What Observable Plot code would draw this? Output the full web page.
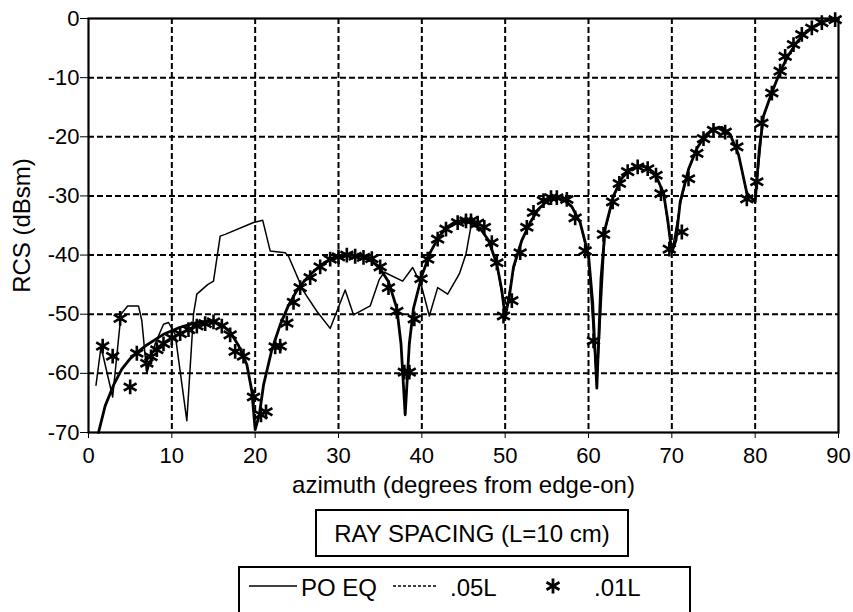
<!DOCTYPE html>
<html>
<head>
<meta charset="utf-8">
<script src="https://cdn.jsdelivr.net/npm/d3@7"></script>
<script src="https://cdn.jsdelivr.net/npm/@observablehq/plot@0.6"></script>
<style>
  html, body { margin: 0; padding: 0; background: #fff; }
  #wrap { position: relative; width: 853px; height: 612px; overflow: hidden; font-family: "Liberation Sans", Arial, sans-serif; color: #000; }
  .box { position: absolute; border: 2px solid #000; box-sizing: border-box; font-size: 24px; }
  .lbl { position: absolute; white-space: nowrap; line-height: 1; }
</style>
</head>
<body>
<div id="wrap"></div>
<script>
// ---- data ----
const xTicks = [0, 10, 20, 30, 40, 50, 60, 70, 80, 90];
const yTicks = [0, -10, -20, -30, -40, -50, -60, -70];

// PO EQ (solid line)
const poAz = [1.2,2,3,4,5,6,7,8,9,10,11,12,13,14,15,16,17,18,19,19.6,20,20.5,21,22,23,24,25,26,27,28,29,30,31,32,33,34,35,36,37,37.5,38,38.5,39,40,41,42,43,44,45,46,47,48,49,49.6,50,50.5,51,52,53,54,55,56,57,58,59,60,60.5,61,61.5,62,63,64,65,66,67,68,69,69.5,70,70.5,71,72,73,74,75,76,77,78,79,80,80.5,81,82,83,84,85,86,87,88,89,90];
const poDb = [-70,-65.5,-62,-59.3,-57.5,-56.3,-55.2,-54.3,-53.4,-52.8,-52.2,-51.8,-51.4,-51.2,-51.2,-51.8,-53,-55.3,-58.5,-63,-69.5,-67,-62,-56,-51.8,-48.5,-46,-44.2,-42.8,-41.6,-40.8,-40.3,-40,-40,-40.3,-41,-42.3,-44.5,-49,-55,-67,-55,-49,-43.5,-39.6,-37,-35.3,-34.4,-34.1,-34.5,-35.5,-37.5,-41.5,-46,-50.5,-47,-42,-37.5,-34.5,-32.2,-30.9,-30.3,-30.6,-31.8,-34.5,-40,-48,-62.5,-44,-35.5,-30,-27,-25.5,-24.9,-25.1,-26.3,-29.5,-34,-39.5,-37.5,-31,-25.5,-22,-19.8,-18.6,-18.4,-19.6,-23,-29.5,-31,-22,-16.5,-12.5,-9,-6.2,-4,-2.5,-1.4,-0.6,-0.2,0];

// .05L (thin line)
const l05Az = [0.9,1.5,2.9,3.9,4.7,6,6.4,7,8,9,9.6,10.4,11.8,12.6,13,14.3,15,15.8,16.4,19.8,20.9,21.8,23.6,24,25.8,27.4,29,30.8,31.8,33.8,34.9,35.5,37.7,38.9,39.9,40.9,41.9,43.1,44.5,45.3,45.9,47,48,49,50,51,52,53,54,55,56,57,58,59,60,61,62,63,64,65,66,67,68,69,70,71,72,73,74,75,76,77,78,79,80,81,82,83,84,85,86,87,88,89,90];
const l05Db = [-62,-55.5,-64,-50,-48.6,-48.6,-51.1,-60,-55,-51.7,-51.4,-53.4,-68,-50,-46.6,-45,-44.4,-36.8,-36.5,-34.5,-34.1,-39.3,-39.6,-40.2,-46.1,-49.5,-52.4,-45.9,-50.1,-48.6,-44.1,-42.9,-44.4,-42.1,-44.9,-50.3,-45.5,-46.6,-43.2,-39.8,-35.1,-35.4,-37.6,-41.4,-50,-42.5,-37.4,-34.4,-32.3,-30.9,-30.3,-30.6,-31.9,-34.6,-40.5,-62,-35.8,-30.2,-27,-25.5,-24.9,-25.1,-26.3,-29.5,-39.5,-31.5,-25.6,-22,-19.8,-18.6,-18.4,-19.6,-23,-29.6,-30.8,-16.6,-12.5,-9,-6.2,-4,-2.5,-1.4,-0.6,-0.2,0];

// .01L (asterisk markers)
const l01Az = [1.7,2.9,3.8,5,5.8,7,7.5,8.2,9,10,11,12,13,14,15,16,17,17.6,18.6,19.8,20.7,21.3,22.4,23,23.8,24.6,25.4,26.6,27.8,29,30,31,32,33,34,35,36,37,37.9,38.5,39.1,39.9,40.7,41.9,42.9,44.3,45.3,45.9,46.7,47.5,48.4,49,49.8,50.8,51.8,52.6,53.4,54.6,55.5,56.2,57.4,58.4,59.6,60.6,61.8,62.9,63.7,64.7,65.9,67.1,68.1,68.7,69.7,71.2,72,73,73.8,75,76.4,77.8,79,80.2,80.8,82,83,83.6,84.6,85.6,86.8,88,89.6];
const l01Db = [-55.4,-57.1,-50.7,-62.3,-56.6,-58.3,-57.2,-56,-55,-54,-53.3,-52.6,-52,-51.6,-51.3,-52,-53.5,-56.3,-57.1,-64,-67,-66.5,-55.5,-55.4,-51.5,-48,-45.5,-43.8,-42,-40.7,-40.3,-40,-40.2,-40.4,-40.6,-42,-45.5,-49.5,-59.8,-59.8,-50.8,-44,-40.7,-37.3,-35.6,-34.5,-34.2,-34.2,-34.6,-35.3,-37.9,-41.3,-50.3,-47.7,-39.6,-35.3,-32.8,-30.8,-30.3,-30.3,-30.6,-33.7,-39.3,-54.5,-36.5,-31,-27.9,-25.9,-25.1,-25.4,-26.5,-29.6,-39,-36.1,-27.1,-22.8,-20.3,-18.9,-19.2,-21.7,-30.5,-27.6,-17.7,-12.6,-8.9,-6.4,-4.4,-2.7,-1.6,-0.7,-0.2];

const po = poAz.map((a, i) => ({az: a, db: poDb[i]}));
const l05 = l05Az.map((a, i) => ({az: a, db: l05Db[i]}));
const l01 = l01Az.map((a, i) => ({az: a, db: l01Db[i]}));

const gridStyle = {stroke: "#000", strokeOpacity: 1, strokeWidth: 2, strokeDasharray: "6,3"};

const chart = Plot.plot({
  width: 853,
  height: 500,
  marginLeft: 88,
  marginRight: 15,
  marginTop: 18,
  marginBottom: 68,
  style: {fontFamily: "'Liberation Sans', Arial, sans-serif", fontSize: "22px", color: "#000", background: "#fff"},
  x: {domain: [0, 90]},
  y: {domain: [-70, 0]},
  marks: [
    Plot.gridX(xTicks.slice(1, -1), gridStyle),
    Plot.gridY(yTicks.slice(1, -1), gridStyle),
    Plot.line(l05, {x: "az", y: "db", stroke: "#000", strokeWidth: 1.5}),
    Plot.line(po, {x: "az", y: "db", stroke: "#000", strokeWidth: 2.8}),
    Plot.dot(l01, {x: "az", y: "db", symbol: "asterisk", r: 7, stroke: "#000", strokeWidth: 2.6}),
    Plot.frame({stroke: "#000", strokeWidth: 2.2}),
    Plot.axisX(xTicks, {tickSize: 6, tickPadding: 9, fontSize: 22, label: null}),
    Plot.axisY(yTicks, {tickSize: 8, tickPadding: 1, fontSize: 22, label: null, tickFormat: d => String(d)}),
    Plot.axisX({label: "azimuth (degrees from edge-on)", labelAnchor: "center", labelArrow: "none", labelOffset: 60, fontSize: 24, ticks: []}),
    Plot.axisY({label: "RCS (dBsm)", labelAnchor: "center", labelArrow: "none", labelOffset: 76, fontSize: 24, ticks: []})
  ]
});

const wrap = document.getElementById("wrap");
wrap.appendChild(chart);

// legend boxes
const b1 = document.createElement("div");
b1.className = "box";
Object.assign(b1.style, {left: "315px", top: "509px", width: "314px", height: "48px"});
b1.innerHTML = '<span class="lbl" style="left:0;right:0;text-align:center;top:11px;">RAY SPACING (L=10 cm)</span>';
wrap.appendChild(b1);

const b2 = document.createElement("div");
b2.className = "box";
Object.assign(b2.style, {left: "238px", top: "566px", width: "453px", height: "70px"});
b2.innerHTML =
  '<svg width="453" height="40" style="position:absolute;left:-2px;top:-2px">' +
  '<line x1="11" x2="59" y1="20" y2="20" stroke="#000" stroke-width="1.5"/>' +
  '<line x1="155" x2="199" y1="20" y2="20" stroke="#000" stroke-width="1.5" stroke-dasharray="3,2"/>' +
  '<g transform="translate(315,20)" stroke="#000" stroke-width="2.8">' +
  '<line x1="0" y1="-7.5" x2="0" y2="7.5"/><line x1="-6.5" y1="-3.75" x2="6.5" y2="3.75"/><line x1="-6.5" y1="3.75" x2="6.5" y2="-3.75"/></g>' +
  '</svg>' +
  '<span class="lbl" style="left:61px;top:8px;">PO EQ</span>' +
  '<span class="lbl" style="left:210px;top:8px;">.05L</span>' +
  '<span class="lbl" style="left:354px;top:8px;">.01L</span>';
wrap.appendChild(b2);
</script>
</body>
</html>
